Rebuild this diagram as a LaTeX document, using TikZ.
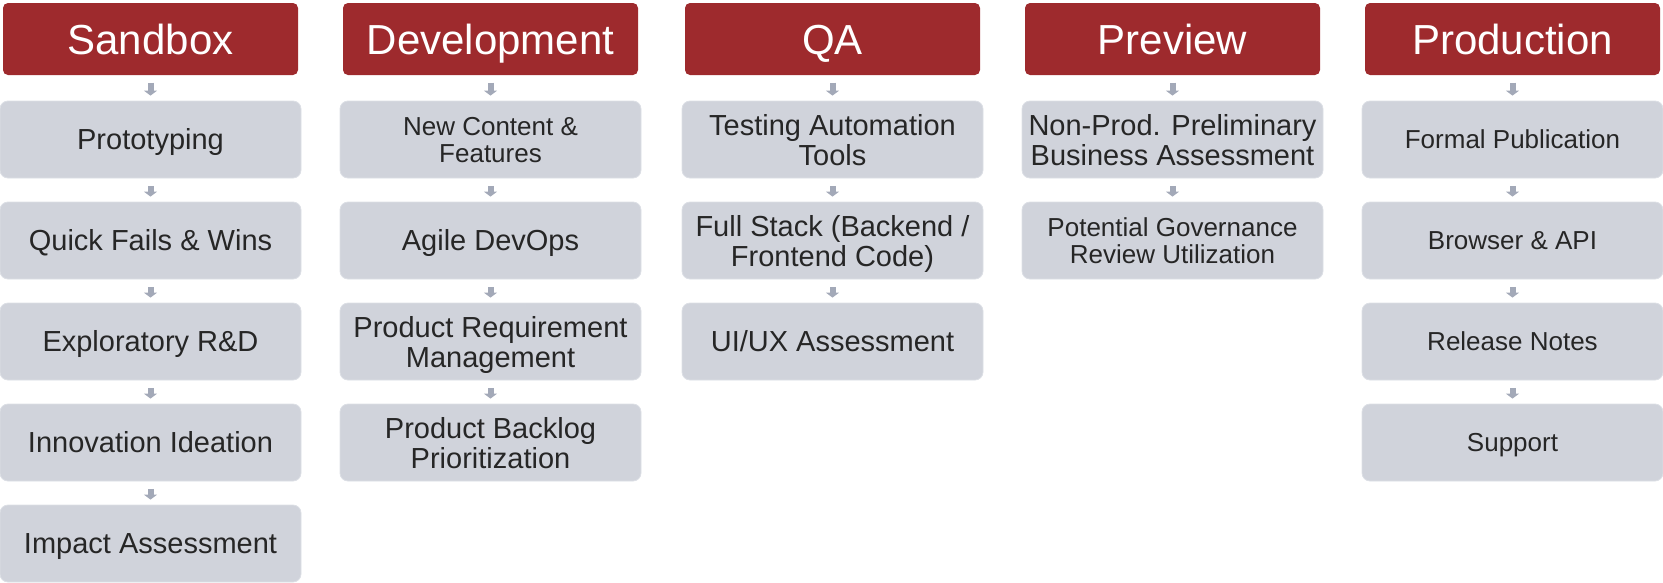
\documentclass[tikz,border=0pt]{standalone}
\usepackage{fontspec}
\setmainfont{Liberation Sans}
\usetikzlibrary{arrows.meta}
\definecolor{hdred}{HTML}{9E2A2D}
\definecolor{boxgray}{HTML}{D0D3DB}
\definecolor{boxedge}{HTML}{DCDFE5}
\definecolor{arrgray}{HTML}{A3A9B8}
\definecolor{txtdark}{HTML}{262626}
\begin{document}
\begin{tikzpicture}[x=1pt,y=-1pt,
  header/.style={fill=hdred, draw=none, rounded corners=5pt, minimum width=295pt, minimum height=72pt, inner sep=0pt, text=white, font=\fontsize{42}{44}\selectfont, text height=30pt, text depth=0pt},
  stage/.style={fill=boxgray, draw=boxedge, line width=0.8pt, rounded corners=8pt, minimum width=301pt, minimum height=77pt, inner sep=0pt, text=txtdark, align=center, font=\fontsize{29}{30}\selectfont, text depth=0pt},
  one/.style={text height=20.8pt},
  small/.style={font=\fontsize{26}{27}\selectfont},
  smallone/.style={font=\fontsize{26}{27}\selectfont, text height=18.6pt},
  flow/.style={draw=arrgray, line width=6pt, -{Triangle[width=13pt,length=5pt]}, shorten <=7.5pt, shorten >=5pt}]
\useasboundingbox (0,0) rectangle (1663,582);

% headers
\node[header] (h1) at (150.5,39) {Sandbox};
\node[header] (h2) at (490.5,39) {Development};
\node[header] (h3) at (832.5,39) {QA};
\node[header] (h4) at (1172.5,39) {Preview};
\node[header] (h5) at (1512.5,39) {Production};

% Sandbox
\node[stage,one] (a1) at (150.5,139.5) {Prototyping};
\node[stage,one] (a2) at (150.5,240.5) {Quick Fails \& Wins};
\node[stage,one] (a3) at (150.5,341.5) {Exploratory R\&D};
\node[stage,one] (a4) at (150.5,442.5) {Innovation Ideation};
\node[stage,one] (a5) at (150.5,543.5) {Impact Assessment};

% Development
\node[stage,small] (b1) at (490.5,139.5) {New Content \&\\Features};
\node[stage,one] (b2) at (490.5,240.5) {Agile DevOps};
\node[stage] (b3) at (490.5,341.5) {Product Requirement\\Management};
\node[stage] (b4) at (490.5,442.5) {Product Backlog\\Prioritization};

% QA
\node[stage] (c1) at (832.5,139.5) {Testing Automation\\Tools};
\node[stage] (c2) at (832.5,240.5) {Full Stack (Backend /\\Frontend Code)};
\node[stage,one] (c3) at (832.5,341.5) {UI/UX Assessment};

% Preview
\node[stage] (d1) at (1172.5,139.5) {Non-Prod. Preliminary\\Business Assessment};
\node[stage,small] (d2) at (1172.5,240.5) {Potential Governance\\Review Utilization};

% Production
\node[stage,smallone] (e1) at (1512.5,139.5) {Formal Publication};
\node[stage,smallone] (e2) at (1512.5,240.5) {Browser \& API};
\node[stage,smallone] (e3) at (1512.5,341.5) {Release Notes};
\node[stage,smallone] (e4) at (1512.5,442.5) {Support};

% connectors
\foreach \u/\v in {h1/a1,a1/a2,a2/a3,a3/a4,a4/a5,
                   h2/b1,b1/b2,b2/b3,b3/b4,
                   h3/c1,c1/c2,c2/c3,
                   h4/d1,d1/d2,
                   h5/e1,e1/e2,e2/e3,e3/e4}
  \draw[flow] (\u.south) -- (\v.north);
\end{tikzpicture}
\end{document}
